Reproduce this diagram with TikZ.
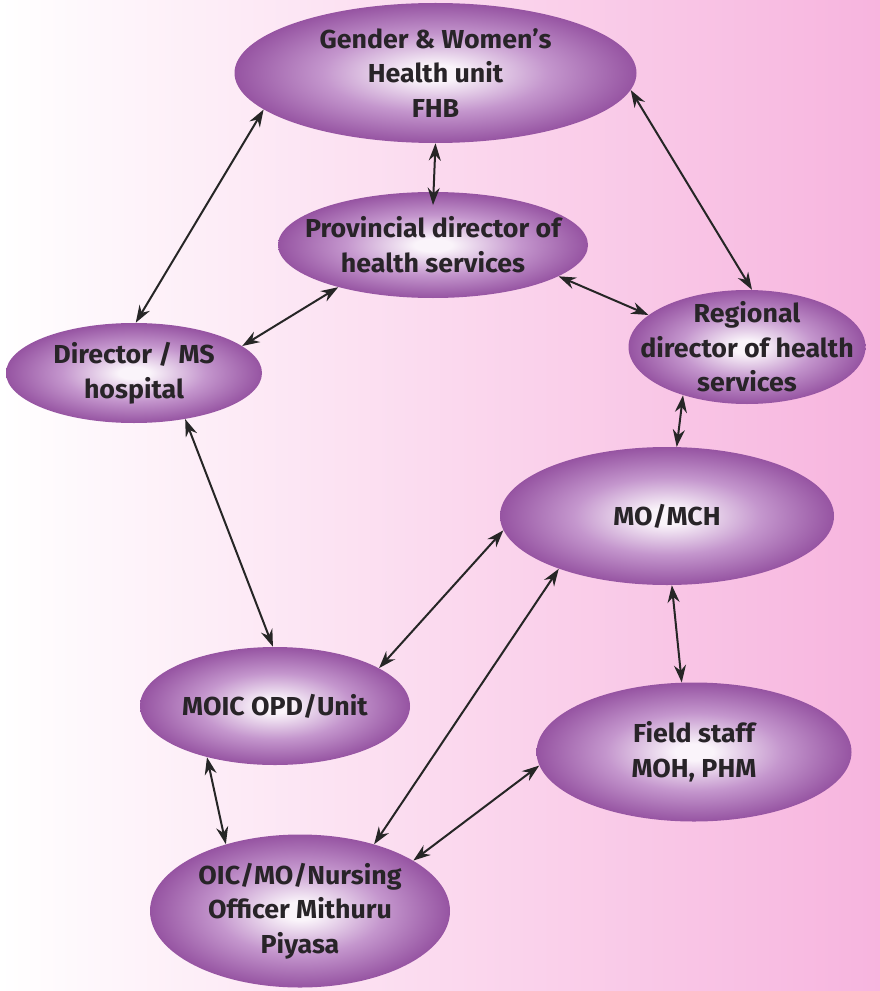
\documentclass[tikz,border=0pt]{standalone}
\usepackage{fontspec}
\setmainfont{Fira Sans}[FakeStretch=1.03]
\usetikzlibrary{shapes.geometric,arrows.meta}
\definecolor{bgpink}{RGB}{247,180,222}
\definecolor{ellout}{RGB}{150,84,162}
\definecolor{ellmid}{RGB}{196,150,205}
\definecolor{ellin}{RGB}{250,244,250}
\definecolor{txt}{RGB}{40,36,40}
\pgfdeclareradialshading{ellshade}{\pgfpoint{0bp}{0bp}}{color(0bp)=(ellin); color(3bp)=(ellin); color(14bp)=(ellmid); color(25bp)=(ellout); color(50bp)=(ellout)}
\tikzset{
  ell/.style={ellipse, inner sep=0pt, shading=ellshade, draw=none,
    label={[txt, font=\bfseries\fontsize{19.5}{26}\selectfont, align=center]center:#1}},
  link/.style={{Stealth[length=13pt,width=9pt]}-{Stealth[length=13pt,width=9pt]}, line width=1.5pt, black!85}
}
\begin{document}
\begin{tikzpicture}[x=0.75pt,y=-0.75pt]
\shade[left color=white, right color=bgpink] (0,0) rectangle (880,991);
\useasboundingbox (0,0) rectangle (880,991);
\node[ell={Gender \& Women{\char"27}s\\Health unit\\FHB}, minimum width=402*0.75pt, minimum height=140*0.75pt] (g) at (435.5,73) {};
\node[ell={Provincial director of\\health services}, minimum width=310*0.75pt, minimum height=106*0.75pt] (p) at (433,245) {};
\node[ell={Director / MS\\hospital}, minimum width=256*0.75pt, minimum height=100*0.75pt] (d) at (134,373) {};
\node[ell={Regional\\director of health\\services}, minimum width=237*0.75pt, minimum height=114*0.75pt] (r) at (747,347) {};
\node[ell={MO/MCH}, minimum width=334*0.75pt, minimum height=138*0.75pt] (m) at (667,516) {};
\node[ell={MOIC OPD/Unit}, minimum width=270*0.75pt, minimum height=118*0.75pt] (o) at (275,706) {};
\node[ell={Field staff\\MOH, PHM}, minimum width=315*0.75pt, minimum height=139*0.75pt] (f) at (694,752) {};
\node[ell={OIC/MO/Nursing\\Officer Mithuru\\Piyasa}, minimum width=300*0.75pt, minimum height=153*0.75pt] (n) at (300,911) {};
\draw[link] (g.192) -- (d.88);
\draw[link] (g.270) -- ([yshift=-10pt]p.90);
\draw[link] (g.355) -- (r.85);
\draw[link] (p.204) -- (d.14);
\draw[link] (p.346) -- (r.162);
\draw[link] (d.318) -- (o.92);
\draw[link] (r.217) -- (m.82);
\draw[link] (m.185) -- (o.20);
\draw[link] (m.206) -- (n.42);
\draw[link] (m.274) -- (f.100);
\draw[link] (o.217) -- (n.138);
\draw[link] (f.185) -- (n.24);
\end{tikzpicture}
\end{document}
